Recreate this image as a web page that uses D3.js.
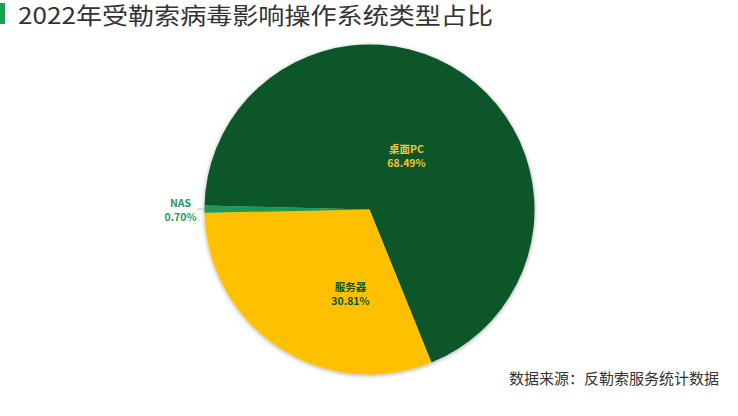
<!DOCTYPE html>
<html>
<head>
<meta charset="utf-8">
<script src="https://cdn.jsdelivr.net/npm/d3@7"></script>
<style>
  body { margin: 0; background: #fff; }
  svg { display: block; font-family: "Noto Sans CJK SC", "Noto Sans", sans-serif; }
</style>
</head>
<body>
<div id="chart-area"></div>
<script>
// data
const categories = ["桌面PC", "服务器", "NAS"]
const shares = [68.49, 30.81, 0.70]
const colors = ["#0b5629", "#ffc000", "#1e9a52"]
const labelColors = ["#f0c43a", "#0b5629", "#2a9a5a"]

const WIDTH = 738
const HEIGHT = 416
const CX = 369.5, CY = 209.5, R = 165

const svg = d3.select("#chart-area").append("svg")
  .attr("width", WIDTH)
  .attr("height", HEIGHT)

// soft shadow around the pie
const defs = svg.append("defs")
defs.append("filter")
  .attr("id", "shadow")
  .attr("x", "-10%").attr("y", "-10%")
  .attr("width", "120%").attr("height", "120%")
  .append("feDropShadow")
  .attr("dx", 0).attr("dy", 1)
  .attr("stdDeviation", 2)
  .attr("flood-color", "#000")
  .attr("flood-opacity", 0.35)

// title
svg.append("rect")
  .attr("x", 0).attr("y", 3)
  .attr("width", 5).attr("height", 21)
  .attr("fill", "#1aa152")

svg.append("text")
  .attr("x", 18).attr("y", 24)
  .attr("font-size", "23px")
  .attr("fill", "#333")
  .attr("textLength", 475)
  .attr("lengthAdjust", "spacingAndGlyphs")
  .text("2022年受勒索病毒影响操作系统类型占比")

// pie
const data = categories.map((c, i) => ({ name: c, value: shares[i], color: colors[i], label: labelColors[i] }))

const start = -88.6 * Math.PI / 180
const pie = d3.pie()
  .sort(null)
  .value(d => d.value)
  .startAngle(start)
  .endAngle(start + 2 * Math.PI)

const arc = d3.arc().innerRadius(0).outerRadius(R)
const arcs = pie(data)

const g = svg.append("g")
  .attr("transform", `translate(${CX}, ${CY})`)

g.append("g")
  .attr("filter", "url(#shadow)")
  .selectAll("path")
  .data(arcs)
  .enter().append("path")
  .attr("d", arc)
  .attr("fill", d => d.data.color)

// label offsets from the centre for the two big slices
const labelPos = {
  "桌面PC": [37, -54],
  "服务器": [-19, 84]
}

arcs.forEach(d => {
  let x, y
  if (labelPos[d.data.name]) {
    [x, y] = labelPos[d.data.name]
  } else {
    // NAS sits outside, left of the pie with a short leader
    const a = (d.startAngle + d.endAngle) / 2
    const ox = Math.sin(a) * R, oy = -Math.cos(a) * R
    g.append("line")
      .attr("x1", ox).attr("y1", oy)
      .attr("x2", ox - 7).attr("y2", oy)
      .attr("stroke", "#bbb")
      .attr("stroke-width", 1)
    x = ox - 24
    y = oy + 1
  }
  const lab = g.append("g")
    .attr("text-anchor", "middle")
    .attr("font-size", "10.5px")
    .attr("font-weight", "bold")
    .attr("fill", d.data.label)
  lab.append("text").attr("x", x).attr("y", y - 3).text(d.data.name)
  lab.append("text").attr("x", x).attr("y", y + 11).text(d.data.value.toFixed(2) + "%")
})

// source note
svg.append("text")
  .attr("x", 719).attr("y", 384)
  .attr("text-anchor", "end")
  .attr("font-size", "15px")
  .attr("fill", "#333")
  .text("数据来源：反勒索服务统计数据")
</script>
</body>
</html>
